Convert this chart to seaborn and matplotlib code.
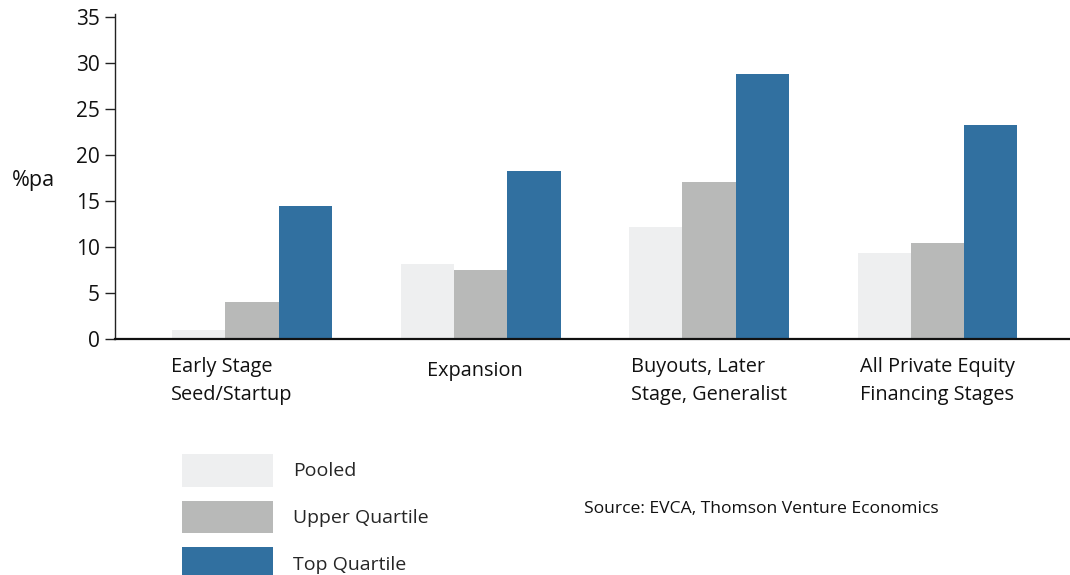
import matplotlib
matplotlib.use("Agg")
import matplotlib.pyplot as plt
import matplotlib.transforms as mtransforms
import seaborn as sns
import pandas as pd

# Annualised returns (% p.a.) by financing stage
stages = ["Early Stage\nSeed/Startup", "Expansion",
          "Buyouts, Later\nStage, Generalist", "All Private Equity\nFinancing Stages"]
series = ["Pooled", "Upper Quartile", "Top Quartile"]
pooled = [1.0, 8.2, 12.2, 9.3]
upper_quartile = [4.0, 7.5, 17.0, 10.4]
top_quartile = [14.4, 18.2, 28.8, 23.2]
y_ticks = [0, 5, 10, 15, 20, 25, 30, 35]

colors = ["#EEEFF0", "#B8B9B8", "#3170A0"]

df = pd.DataFrame({
    "stage": stages * 3,
    "series": [s for s in series for _ in stages],
    "value": pooled + upper_quartile + top_quartile,
})

sns.set_theme(style="white")
plt.rcParams["font.family"] = ["Open Sans", "DejaVu Sans"]

fig = plt.figure(figsize=(10.7, 5.75), dpi=100)
ax = fig.add_axes([0.1075, 0.4104, 0.8925, 0.5653])

sns.barplot(data=df, x="stage", y="value", hue="series", order=stages,
            hue_order=series, palette=colors, width=0.70, saturation=1,
            edgecolor="none", linewidth=0, ax=ax)

ax.set_ylim(0, 35.3)
ax.set_xlim(-0.60, 3.58)
ax.set_yticks(y_ticks)
ax.set_yticklabels([str(t) for t in y_ticks], fontsize=15, color="#111111")
ax.tick_params(axis="y", direction="out", length=7, width=1, color="#222222",
               left=True, pad=4)
ax.tick_params(axis="x", length=0, pad=13)
for i, lbl in enumerate(ax.get_xticklabels()):
    lbl.set_fontsize(14.3)
    lbl.set_multialignment("left")
    lbl.set_linespacing(1.5)
    lbl.set_color("#111111")
    # nudge the first (left-hanging) and single-line labels
    dx, dy = {0: (-20, 0), 1: (-6, -4)}.get(i, (0, 0))
    if dx or dy:
        lbl.set_transform(lbl.get_transform() + mtransforms.ScaledTranslation(
            dx / 100, dy / 100, fig.dpi_scale_trans))

for side in ["top", "right"]:
    ax.spines[side].set_visible(False)
ax.spines["left"].set_color("#222222")
ax.spines["left"].set_linewidth(1.0)
ax.spines["bottom"].set_color("#111111")
ax.spines["bottom"].set_linewidth(1.6)

ax.set_xlabel("")
ax.set_ylabel("%pa", rotation=0, fontsize=15.5, color="#111111",
              ha="left", va="center")
ax.yaxis.set_label_coords(-0.108, 0.488)

handles, labels = ax.get_legend_handles_labels()
ax.legend_.remove()
fig.legend(handles, labels, loc="upper left",
           bbox_to_anchor=(182 / 1070, 1 - 454 / 575),
           frameon=False, fontsize=14, handlelength=4.7, handleheight=2.2,
           labelspacing=0.72, handletextpad=1.0, borderpad=0, borderaxespad=0)

fig.text(584 / 1070, 1 - 509 / 575, "Source: EVCA, Thomson Venture Economics",
         fontsize=12.6, color="#111111", va="center", ha="left")

fig.savefig("out.png", dpi=100)
